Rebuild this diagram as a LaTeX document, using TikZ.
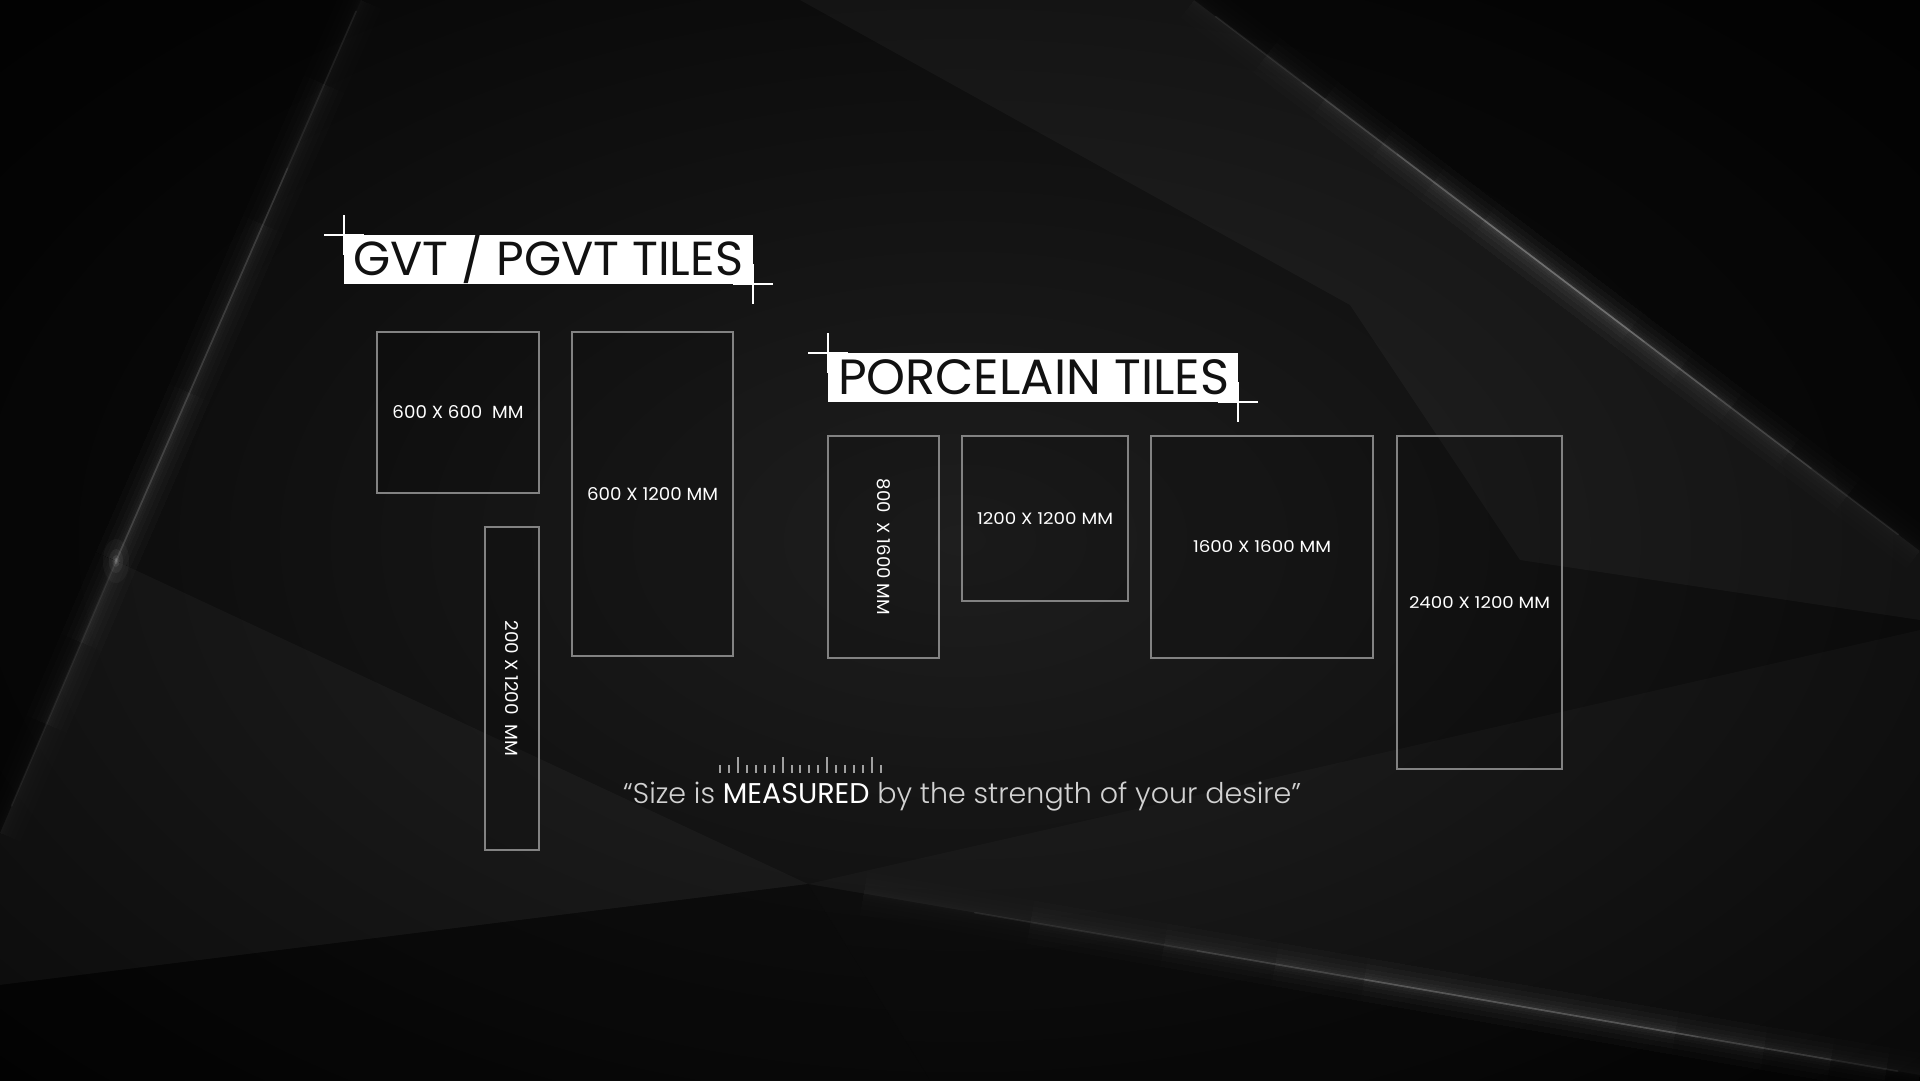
\documentclass[tikz,border=0pt]{standalone}
\usepackage{fontspec}
\usepackage{graphicx}
\usetikzlibrary{calc}
\newfontfamily\regf{Poppins}
\IfFontExistsTF{Poppins Light}{\newfontfamily\lightf{Poppins Light}}{\newfontfamily\lightf{Poppins}}
\definecolor{tilegray}{HTML}{828282}
\definecolor{quotegray}{HTML}{D2D2D2}
\definecolor{tickgray}{HTML}{A0A0A0}
\definecolor{headink}{HTML}{111111}
\newcommand\lbl[3]{\resizebox{#1pt}{#2pt}{\regf #3}}
% soft glow along a segment, tapered: #1,#2 end points, #3 list of a/b fractions, #4 opacity per pass
\newcommand\glowseg[4]{%
  \foreach \a/\b in {#3}{%
    \foreach \w in {44,32,22,14,9,5,2.5}{%
      \draw[draw=white, line cap=butt, line width=\w pt, opacity=#4] ($#1!\a!#2$) -- ($#1!\b!#2$);
    }%
  }%
}
% thin bright core, tapered
\newcommand\coreseg[4]{%
  \foreach \a/\b in {#3}{%
    \draw[draw=white, line cap=round, line width=1.6pt, opacity=#4] ($#1!\a!#2$) -- ($#1!\b!#2$);
  }%
}
\tikzset{
  tile/.style={draw=tilegray, line width=1.5pt, fill=black, fill opacity=0.12, text opacity=1, text=white, inner sep=0pt, outer sep=0pt},
  headbox/.style={fill=white, draw=none, inner sep=0pt, outer sep=0pt, minimum width=409pt, minimum height=49pt},
  headtext/.style={text=headink, inner sep=0pt, outer sep=0pt, anchor=base west},
  crossline/.style={draw=white, line width=1.5pt},
  tickmark/.style={draw=tickgray, line width=2pt}
}
\begin{document}
\begin{tikzpicture}[x=1pt,y=-1pt]
\useasboundingbox (0,0) rectangle (1920,1080);
% ---------- background ----------
\fill[black] (0,0) rectangle (1920,1080);
\shade[inner color={rgb,255:red,30;green,30;blue,30}, outer color={rgb,255:red,4;green,4;blue,4}] (-350,-250) rectangle (2270,1330);
\fill[black, opacity=0.45] (0,0) -- (361,0) -- (116,561) -- (0,833) -- cycle;
\fill[black, opacity=0.45] (1194,0) -- (1920,0) -- (1920,551) -- cycle;
\fill[white, opacity=0.035] (800,0) -- (1194,0) -- (1920,551) -- (1920,620) -- (1520,560) -- (1350,305) -- cycle;
\fill[white, opacity=0.03] (116,561) -- (808,884) -- (0,985) -- (0,833) -- cycle;
\fill[white, opacity=0.025] (808,884) -- (1920,630) -- (1920,1075) -- cycle;
\fill[black, opacity=0.3] (0,985) -- (808,884) -- (930,1080) -- (0,1080) -- cycle;
\fill[black, opacity=0.25] (808,884) -- (1920,1075) -- (1920,1080) -- (930,1080) -- cycle;
% glows
\glowseg{(1194,0)}{(1920,551)}{0/1,0.1/0.9,0.18/0.82,0.26/0.74,0.33/0.67,0.4/0.6}{0.008}
\coreseg{(1194,0)}{(1920,551)}{0.03/0.97,0.15/0.85,0.28/0.72,0.38/0.62}{0.08}
\glowseg{(361,0)}{(116,561)}{0/1,0.15/1,0.4/1,0.7/1}{0.008}
\coreseg{(361,0)}{(116,561)}{0.02/1,0.3/1}{0.07}
\glowseg{(116,561)}{(0,833)}{0/1,0/0.6,0/0.3}{0.007}
\coreseg{(116,561)}{(0,833)}{0/0.9}{0.06}
\glowseg{(808,884)}{(1920,1075)}{0.05/1,0.2/0.97,0.32/0.92,0.42/0.86,0.5/0.78}{0.009}
\coreseg{(808,884)}{(1920,1075)}{0.15/0.98,0.35/0.92,0.5/0.8}{0.07}
\foreach \r/\o in {22/0.03,12/0.05,6/0.08,3/0.15}{
  \fill[white, opacity=\o] (116,561) ellipse ({\r*0.6} and \r);
}
% ---------- headings ----------
\node[headbox] (gvtbox) at (548.5,259.5) {};
\node[headtext] (gvttext) at (353,275) {\resizebox{390pt}{!}{\regf GVT / PGVT TILES}};
\draw[crossline] ([xshift=-20pt]gvtbox.north west) -- ([xshift=20pt]gvtbox.north west);
\draw[crossline] ([yshift=20pt]gvtbox.north west) -- ([yshift=-20pt]gvtbox.north west);
\draw[crossline] ([xshift=-20pt]gvtbox.south east) -- ([xshift=20pt]gvtbox.south east);
\draw[crossline] ([yshift=20pt]gvtbox.south east) -- ([yshift=-20pt]gvtbox.south east);

\node[headbox, minimum width=410pt] (porcbox) at (1033,377.5) {};
\node[headtext] (porctext) at (838,394) {\resizebox{391pt}{!}{\regf PORCELAIN TILES}};
\draw[crossline] ([xshift=-20pt]porcbox.north west) -- ([xshift=20pt]porcbox.north west);
\draw[crossline] ([yshift=20pt]porcbox.north west) -- ([yshift=-20pt]porcbox.north west);
\draw[crossline] ([xshift=-20pt]porcbox.south east) -- ([xshift=20pt]porcbox.south east);
\draw[crossline] ([yshift=20pt]porcbox.south east) -- ([yshift=-20pt]porcbox.south east);
% ---------- GVT tiles ----------
\node[tile, minimum width=162pt, minimum height=161pt] (g600) at (458,412.5) {\lbl{131}{13}{600 X 600\ \ MM}};
\node[tile, minimum width=161pt, minimum height=324pt] (g1200) at (652.5,494) {\lbl{131}{13}{600 X 1200 MM}};
\node[tile, minimum width=54pt, minimum height=323pt] (g200) at (512,688.5) {};
\node[rotate=-90, text=white, inner sep=0pt] (g200lbl) at (g200.center) {\lbl{136}{13}{200 X 1200\ \ MM}};
% ---------- Porcelain tiles ----------
\node[tile, minimum width=111pt, minimum height=222pt] (p800) at (883.5,547) {};
\node[rotate=-90, text=white, inner sep=0pt] (p800lbl) at (p800.center) {\lbl{136}{13}{800\ \ X 1600 MM}};
\node[tile, minimum width=166pt, minimum height=165pt] (p1200) at (1045,518.5) {\lbl{136}{12}{1200 X 1200 MM}};
\node[tile, minimum width=222pt, minimum height=222pt] (p1600) at (1262,547) {\lbl{138}{12}{1600 X 1600 MM}};
\node[tile, minimum width=165pt, minimum height=333pt] (p2400) at (1479.5,602.5) {\lbl{141}{12}{2400 X 1200 MM}};
% ---------- ruler ----------
\foreach \i in {0,...,18}{
  \pgfmathsetmacro{\tx}{720+\i*8.94}
  \pgfmathtruncatemacro{\m}{mod(\i+3,5)}
  \ifnum\m=0
    \draw[tickmark] (\tx,773) -- (\tx,757);
  \else
    \draw[tickmark] (\tx,773) -- (\tx,765);
  \fi
}
% ---------- quote ----------
\node[inner sep=0pt, anchor=base west, text=quotegray] (quote) at (623,803)
  {\resizebox{678pt}{!}{\lightf “Size is {\regf\color{white}MEASURED} by the strength of your desire”}};
\end{tikzpicture}
\end{document}
